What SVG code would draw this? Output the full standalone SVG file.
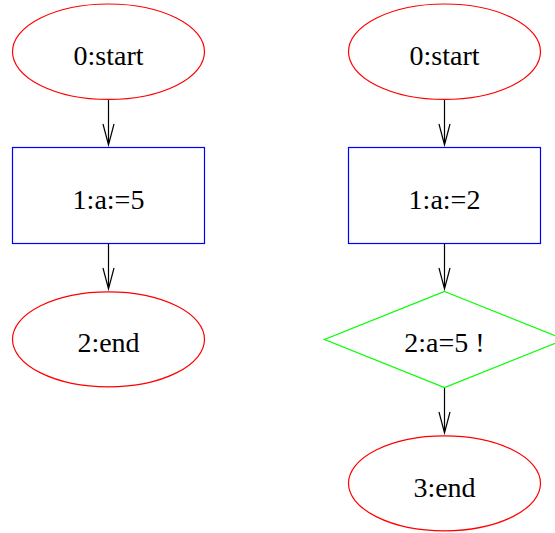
<svg xmlns="http://www.w3.org/2000/svg" width="555" height="533" viewBox="0 0 555 533">
<style>
.term{fill:none;stroke:#ff0000;stroke-width:1.2}
.proc{fill:none;stroke:#0000ff;stroke-width:1.2}
.dec{fill:none;stroke:#00ff00;stroke-width:1.2}
.edge{fill:none;stroke:#000;stroke-width:1.2}
</style>
<rect width="555" height="533" fill="#fff"/>
<g id="connectors">
<path class="edge" d="M108.5,99.5V145 M103,124 L108.5,145 L114,124"/>
<path class="edge" d="M108.5,243.5V289 M103,268 L108.5,289 L114,268"/>
<path class="edge" d="M444.5,99.5V145 M439,124 L444.5,145 L450,124"/>
<path class="edge" d="M444.5,243.5V289 M439,268 L444.5,289 L450,268"/>
<path class="edge" d="M444.5,387.5V433 M439,412 L444.5,433 L450,412"/>
</g>
<g id="L0"><ellipse class="term" cx="108.5" cy="51.7" rx="96" ry="47.7"/><text font-family="Liberation Serif" font-size="28" text-anchor="middle" x="108.5" y="65">0:start</text></g>
<g id="L1"><rect class="proc" x="12.5" y="147.5" width="192" height="96"/><text font-family="Liberation Serif" font-size="28" text-anchor="middle" x="108.5" y="208.5">1:a:=5</text></g>
<g id="L2"><ellipse class="term" cx="108.5" cy="339.3" rx="96" ry="47.5"/><text font-family="Liberation Serif" font-size="28" text-anchor="middle" x="108.5" y="351.7">2:end</text></g>
<g id="R0"><ellipse class="term" cx="444.5" cy="51.7" rx="96" ry="47.7"/><text font-family="Liberation Serif" font-size="28" text-anchor="middle" x="444.5" y="65">0:start</text></g>
<g id="R1"><rect class="proc" x="348.5" y="147.5" width="192" height="96"/><text font-family="Liberation Serif" font-size="28" text-anchor="middle" x="444.5" y="208.5">1:a:=2</text></g>
<g id="R2"><polygon class="dec" points="444.5,291.5 564.5,339.5 444.5,387.5 324.5,339.5"/><text font-family="Liberation Serif" font-size="28" text-anchor="middle" x="444.5" y="351.5">2:a=5 !</text></g>
<g id="R3"><ellipse class="term" cx="444.5" cy="483.3" rx="96" ry="47.5"/><text font-family="Liberation Serif" font-size="28" text-anchor="middle" x="444.5" y="496.5">3:end</text></g>
</svg>
